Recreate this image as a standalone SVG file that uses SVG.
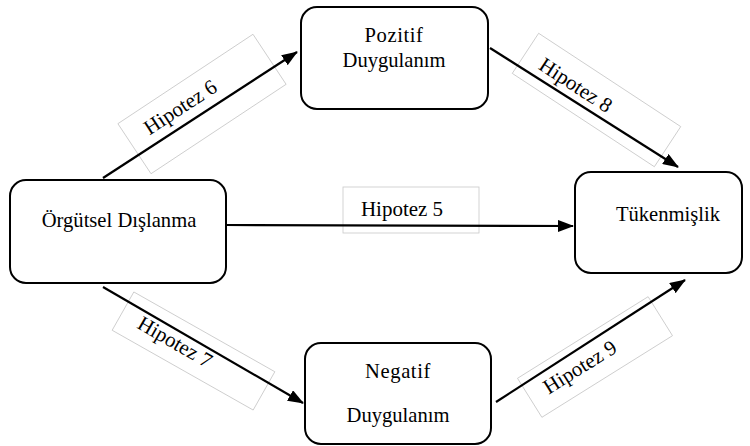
<svg xmlns="http://www.w3.org/2000/svg" width="750" height="446" viewBox="0 0 750 446">
<defs>
<style>
.box{fill:#fff;stroke:#000;stroke-width:2}
.lbl{fill:#fff;stroke:#c8c8c8;stroke-width:0.8}
.t{font-size:20.6px;fill:#000;text-anchor:middle}
.h{font-size:21px}
.edge{stroke:#000;stroke-width:2.2;fill:none}
</style>
<marker id="ah" markerWidth="16" markerHeight="12" refX="15" refY="6" orient="auto" markerUnits="userSpaceOnUse">
<path d="M0,0 L16,6 L0,12 Z" fill="#000"/>
</marker>
</defs>
<rect width="750" height="446" fill="#fff"/>
<g id="labels">
<g transform="translate(202,104) rotate(-33.5)"><rect class="lbl" x="-81" y="-30" width="162" height="60"/></g>
<g transform="translate(596.5,100) rotate(33.3)"><rect class="lbl" x="-85" y="-24" width="170" height="48"/></g>
<g transform="translate(193.5,351) rotate(29.5)"><rect class="lbl" x="-81" y="-22" width="162" height="44"/></g>
<g transform="translate(595,357) rotate(-32)"><rect class="lbl" x="-77" y="-23" width="154" height="46"/></g>
<rect class="lbl" x="343" y="187" width="136" height="46"/>
</g>
<g id="connectors">
<line class="edge" x1="103" y1="178" x2="297" y2="52" marker-end="url(#ah)"/>
<line class="edge" x1="490" y1="48" x2="678" y2="167" marker-end="url(#ah)"/>
<line class="edge" x1="103" y1="287" x2="303" y2="403" marker-end="url(#ah)"/>
<line class="edge" x1="496" y1="402" x2="685" y2="280" marker-end="url(#ah)"/>
<line class="edge" x1="226" y1="225" x2="573" y2="226" marker-end="url(#ah)"/>
</g>
<g font-family="Liberation Serif">
<g id="n-orgutsel"><rect class="box" x="10" y="180" width="216" height="103" rx="16"/><text class="t" x="119" y="227">Örgütsel Dışlanma</text></g>
<g id="n-pozitif"><rect class="box" x="301" y="7" width="187" height="102" rx="16"/><text class="t" x="394" y="42" letter-spacing="0.6">Pozitif</text><text class="t" x="394" y="67">Duygulanım</text></g>
<g id="n-negatif"><rect class="box" x="305" y="343" width="186" height="101" rx="16"/><text class="t" x="398" y="378" letter-spacing="0.6">Negatif</text><text class="t" x="398" y="422">Duygulanım</text></g>
<g id="n-tukenmislik"><rect class="box" x="575" y="172" width="167" height="101" rx="16"/><text class="t" x="668" y="221">Tükenmişlik</text></g>
<g id="label-text">
<text class="t h" x="402" y="216">Hipotez 5</text>
<text class="t h" transform="translate(184,113) rotate(-33)">Hipotez 6</text>
<text class="t h" transform="translate(572,91) rotate(33)">Hipotez 8</text>
<text class="t h" transform="translate(171.5,348) rotate(30)">Hipotez 7</text>
<text class="t h" transform="translate(583.5,373) rotate(-32)">Hipotez 9</text>
</g>
</g>
</svg>
